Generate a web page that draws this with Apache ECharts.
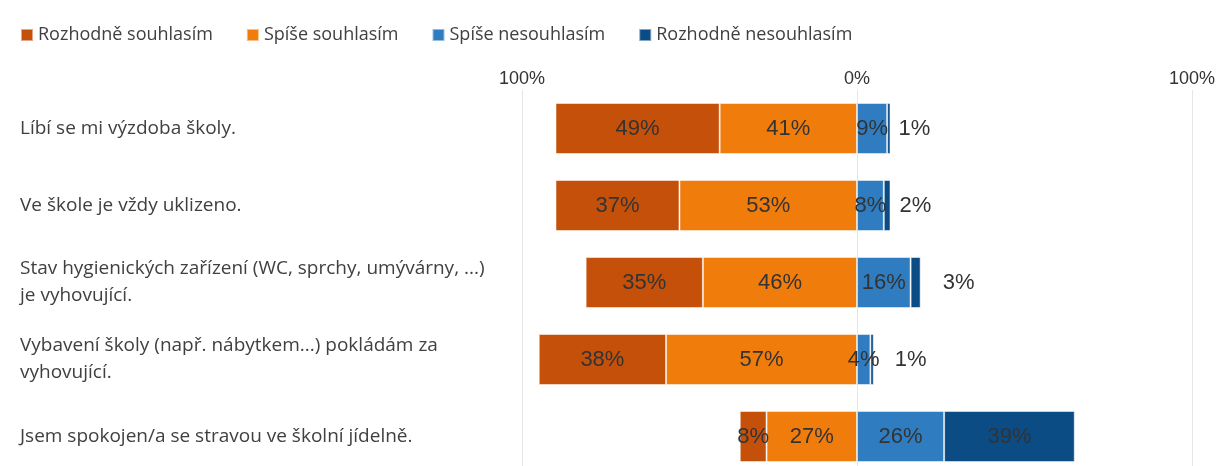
<!DOCTYPE html>
<html>
<head>
<meta charset="utf-8">
<script src="https://cdn.jsdelivr.net/npm/echarts@6/dist/echarts.min.js"></script>
<style>
  html, body { margin: 0; padding: 0; background: #fff; }
  #chart { width: 1221px; height: 466px; }
</style>
</head>
<body>
<div id="chart"></div>
<script>
// otázky (odshora dolů)
var categories = [
  "Líbí se mi výzdoba školy.",
  "Ve škole je vždy uklizeno.",
  "Stav hygienických zařízení (WC, sprchy, umývárny, ...)\nje vyhovující.",
  "Vybavení školy (např. nábytkem...) pokládám za\nvyhovující.",
  "Jsem spokojen/a se stravou ve školní jídelně."
];
var seriesNames = ["Rozhodně souhlasím", "Spíše souhlasím", "Spíše nesouhlasím", "Rozhodně nesouhlasím"];
var rozhodneSouhlasim = [49, 37, 35, 38, 8];
var spiseSouhlasim = [41, 53, 46, 57, 27];
var spiseNesouhlasim = [9, 8, 16, 4, 26];
var rozhodneNesouhlasim = [1, 2, 3, 1, 39];
var tickValues = [-100, 0, 100];

var colors = ["#c5500a", "#f07c0c", "#2f7dc0", "#0b4c85"];
var labelFont = "'Liberation Sans', Arial, sans-serif";
var textFont = "'Open Sans', 'Noto Sans', sans-serif";

var chart = echarts.init(document.getElementById("chart"));

function pct(p) {
  return Math.abs(p.value) + "%";
}

function neg(arr) {
  return arr.map(function(v) { return -v; });
}

var baseLabel = {
  show: true,
  position: "inside",
  formatter: pct,
  color: "#333",
  fontSize: 22,
  fontFamily: labelFont
};

// malé hodnoty vpravo mimo pruh
var outsideDist = [8, 9, 22, 21];
var lastData = rozhodneNesouhlasim.map(function(v, i) {
  if (v < 5) {
    return { value: v, label: { position: "right", distance: outsideDist[i] } };
  }
  return v;
});

function bar(name, data, color) {
  return {
    name: name,
    type: "bar",
    stack: "total",
    barWidth: 51,
    data: data,
    itemStyle: { color: color, borderColor: "rgba(255,255,255,0.5)", borderWidth: 1 },
    label: baseLabel
  };
}

var option = {
  backgroundColor: "#fff",
  animation: false,
  legend: {
    data: seriesNames,
    left: 15,
    top: 21,
    icon: "rect",
    itemWidth: 12,
    itemHeight: 12,
    itemGap: 33,
    textStyle: { fontSize: 18, color: "#404040", fontFamily: textFont }
  },
  grid: {
    left: 522,
    top: 90,
    width: 670,
    height: 385,
    outerBoundsMode: "none"
  },
  xAxis: {
    type: "value",
    position: "top",
    min: -100,
    max: 100,
    interval: 100,
    axisLine: { show: false },
    axisTick: { show: false },
    axisLabel: {
      margin: 2,
      fontSize: 18,
      color: "#333",
      fontFamily: labelFont,
      formatter: function(v) { return tickValues.indexOf(v) >= 0 ? Math.abs(v) + "%" : ""; }
    },
    splitLine: { show: true, lineStyle: { color: "#e6e6e6", width: 1 } }
  },
  yAxis: {
    type: "category",
    inverse: true,
    data: categories,
    axisLine: { show: false },
    axisTick: { show: false },
    axisLabel: {
      align: "left",
      margin: 502,
      fontSize: 19,
      lineHeight: 27,
      color: "#404040",
      fontFamily: textFont
    }
  },
  series: [
    bar(seriesNames[1], neg(spiseSouhlasim), colors[1]),
    bar(seriesNames[0], neg(rozhodneSouhlasim), colors[0]),
    bar(seriesNames[2], spiseNesouhlasim, colors[2]),
    bar(seriesNames[3], lastData, colors[3])
  ]
};

chart.setOption(option);
</script>
</body>
</html>
